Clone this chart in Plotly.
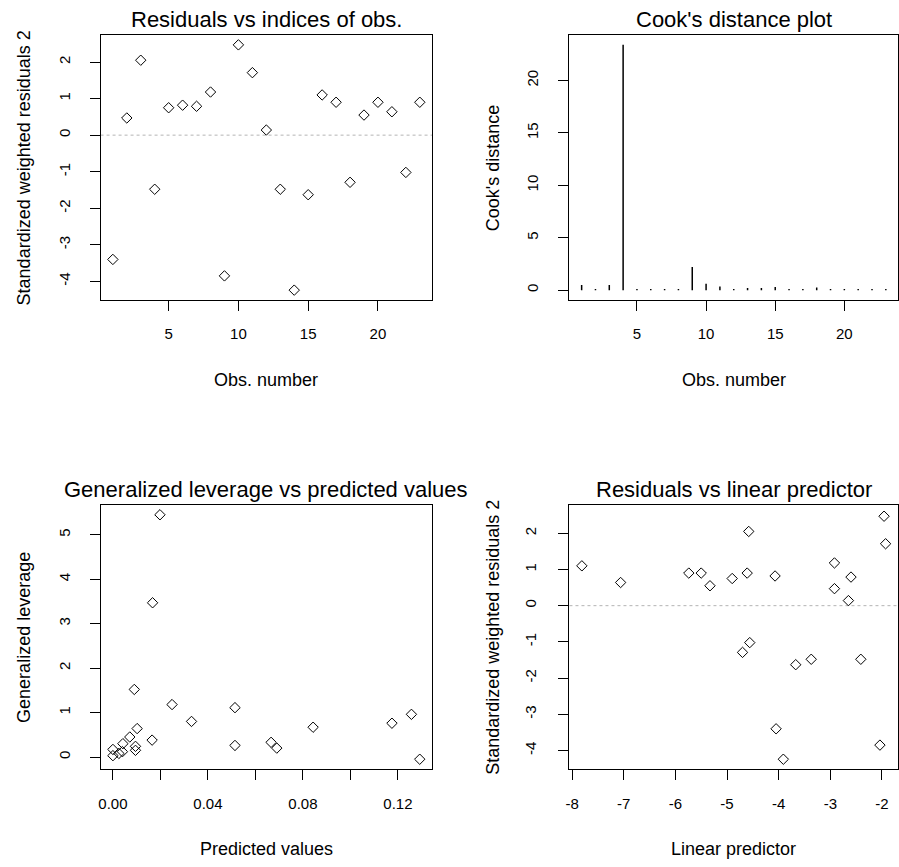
import plotly.graph_objects as go

# ---------------- data ----------------
obs = list(range(1, 24))
resid = [-3.40, 0.47, 2.05, -1.48, 0.75, 0.82, 0.79, 1.18, -3.85, 2.47, 1.71, 0.14,
         -1.48, -4.24, -1.63, 1.10, 0.90, -1.29, 0.55, 0.90, 0.64, -1.02, 0.90]
cooks = [0.5, 0.1, 0.5, 23.4, 0.1, 0.1, 0.1, 0.1, 2.2, 0.6, 0.35, 0.1,
         0.2, 0.2, 0.3, 0.1, 0.1, 0.25, 0.1, 0.1, 0.1, 0.1, 0.1]
lin_pred = [-4.05, -2.92, -4.58, -3.37, -4.90, -4.07, -2.60, -2.92, -2.04, -1.96, -1.93, -2.65,
            -2.41, -3.91, -3.67, -7.81, -5.74, -4.70, -5.33, -5.50, -7.06, -4.56, -4.61]
predicted = [0.0198, 0.0167, 0.0090, 0.0249, 0.0514, 0.0331, 0.0102, 0.0071, 0.0165, 0.0042,
             0.0095, 0.0095, 0.0000, 0.0000, 0.0025, 0.0040, 0.0514, 0.0666, 0.0690, 0.0843,
             0.1175, 0.1257, 0.1292]
leverage = [5.45, 3.47, 1.52, 1.18, 1.11, 0.80, 0.64, 0.45, 0.38, 0.30,
            0.24, 0.15, 0.17, 0.03, 0.08, 0.12, 0.26, 0.33, 0.20, 0.67,
            0.76, 0.96, -0.05]

obs_ticks = [5, 10, 15, 20]
resid_ticks = [-4, -3, -2, -1, 0, 1, 2]
resid_ticktext = ["-4", "-3", "-2", "-1", "0", "1", "2"]
cook_ticks = [0, 5, 10, 15, 20]
pred_ticks = [0.00, 0.02, 0.04, 0.06, 0.08, 0.10, 0.12]
pred_ticktext = ["0.00", "", "0.04", "", "0.08", "", "0.12"]
lev_ticks = [0, 1, 2, 3, 4, 5]
lp_ticks = [-8, -7, -6, -5, -4, -3, -2]
lp_ticktext = ["-8", "-7", "-6", "-5", "-4", "-3", "-2"]

W, H = 899, 867
FONT = "Liberation Sans, Arial, sans-serif"

fig = go.Figure()

marker = dict(symbol="diamond-open", size=8, color="black", line=dict(width=1, color="black"))

fig.add_trace(go.Scatter(x=obs, y=resid, mode="markers", marker=marker,
                         xaxis="x", yaxis="y", showlegend=False, cliponaxis=False))

# Cook's distance sticks (type = "h")
sx, sy = [], []
for o, c in zip(obs, cooks):
    sx += [o, o, None]
    sy += [0, c, None]
fig.add_trace(go.Scatter(x=sx, y=sy, mode="lines", line=dict(color="black", width=1.5),
                         xaxis="x2", yaxis="y2", showlegend=False))

fig.add_trace(go.Scatter(x=predicted, y=leverage, mode="markers", marker=marker,
                         xaxis="x3", yaxis="y3", showlegend=False, cliponaxis=False))

fig.add_trace(go.Scatter(x=lin_pred, y=resid, mode="markers", marker=marker,
                         xaxis="x4", yaxis="y4", showlegend=False, cliponaxis=False))

# panel boxes in pixels: (left, right, top, bottom)
boxes = {
    1: (97, 430, 35, 300),
    2: (568, 898, 35, 300),
    3: (97, 430, 505, 769),
    4: (568, 898, 505, 769),
}

def xdom(b):
    return [b[0] / W, b[1] / W]

def ydom(b):
    return [1 - b[3] / H, 1 - b[2] / H]

axis_common = dict(showline=True, mirror=True, linecolor="black", linewidth=1,
                   ticks="outside", ticklen=10, tickwidth=1, tickcolor="black",
                   showgrid=False, zeroline=False,
                   tickfont=dict(family=FONT, size=15, color="black"))

XS = 10   # x tick label standoff
YS = 14   # y tick label standoff

fig.update_layout(
    width=W, height=H,
    margin=dict(l=0, r=0, t=0, b=0),
    paper_bgcolor="white", plot_bgcolor="white",
    xaxis=dict(domain=xdom(boxes[1]), range=[0.12, 23.88], tickvals=obs_ticks,
               anchor="y", ticklabelstandoff=XS, **axis_common),
    yaxis=dict(domain=ydom(boxes[1]), range=[-4.51, 2.74], tickvals=resid_ticks,
               ticktext=resid_ticktext,
               anchor="x", tickangle=-90, ticklabelstandoff=YS, **axis_common),
    xaxis2=dict(domain=xdom(boxes[2]), range=[0.12, 23.88], tickvals=obs_ticks,
                anchor="y2", ticklabelstandoff=XS, **axis_common),
    yaxis2=dict(domain=ydom(boxes[2]), range=[-0.94, 24.34], tickvals=cook_ticks,
                anchor="x2", tickangle=-90, ticklabelstandoff=YS, **axis_common),
    xaxis3=dict(domain=xdom(boxes[3]), range=[-0.0052, 0.1344], tickvals=pred_ticks,
                ticktext=pred_ticktext, anchor="y3", ticklabelstandoff=XS + 1, **axis_common),
    yaxis3=dict(domain=ydom(boxes[3]), range=[-0.27, 5.67], tickvals=lev_ticks,
                anchor="x3", tickangle=-90, ticklabelstandoff=YS, **axis_common),
    xaxis4=dict(domain=xdom(boxes[4]), range=[-8.05, -1.69], tickvals=lp_ticks,
                ticktext=lp_ticktext,
                anchor="y4", ticklabelstandoff=XS + 1, **axis_common),
    yaxis4=dict(domain=ydom(boxes[4]), range=[-4.51, 2.78], tickvals=resid_ticks,
                ticktext=resid_ticktext,
                anchor="x4", tickangle=-90, ticklabelstandoff=YS + 2, **axis_common),
)

# dotted zero lines
for xr, yr in [("x domain", "y"), ("x4 domain", "y4")]:
    fig.add_shape(type="line", xref=xr, yref=yr, x0=0, x1=1, y0=0, y1=0,
                  line=dict(color="#b4b4b4", width=1, dash="dot"), layer="below")

def ann(text, px, py, size, angle=0):
    fig.add_annotation(text=text, x=px / W, y=1 - py / H, xref="paper", yref="paper",
                       xanchor="center", yanchor="middle", showarrow=False, textangle=angle,
                       font=dict(family=FONT, size=size, color="black"))

titles = ["Residuals vs indices of obs.", "Cook's distance plot",
          "Generalized leverage vs predicted values", "Residuals vs linear predictor"]
xtitles = ["Obs. number", "Obs. number", "Predicted values", "Linear predictor"]
ytitles = ["Standardized weighted residuals 2", "Cook's distance",
           "Generalized leverage", "Standardized weighted residuals 2"]

for i in range(1, 5):
    l, r, t, b = boxes[i]
    cx = (l + r) / 2
    cy = (t + b) / 2
    ann(titles[i - 1], cx, t - 16, 22)
    ann(xtitles[i - 1], cx, b + 80, 18)
    ann(ytitles[i - 1], l - 77, cy, 18, angle=-90)

fig.write_html("out.html", post_script="document.body.style.margin='0px';",
               config={"displayModeBar": False})
